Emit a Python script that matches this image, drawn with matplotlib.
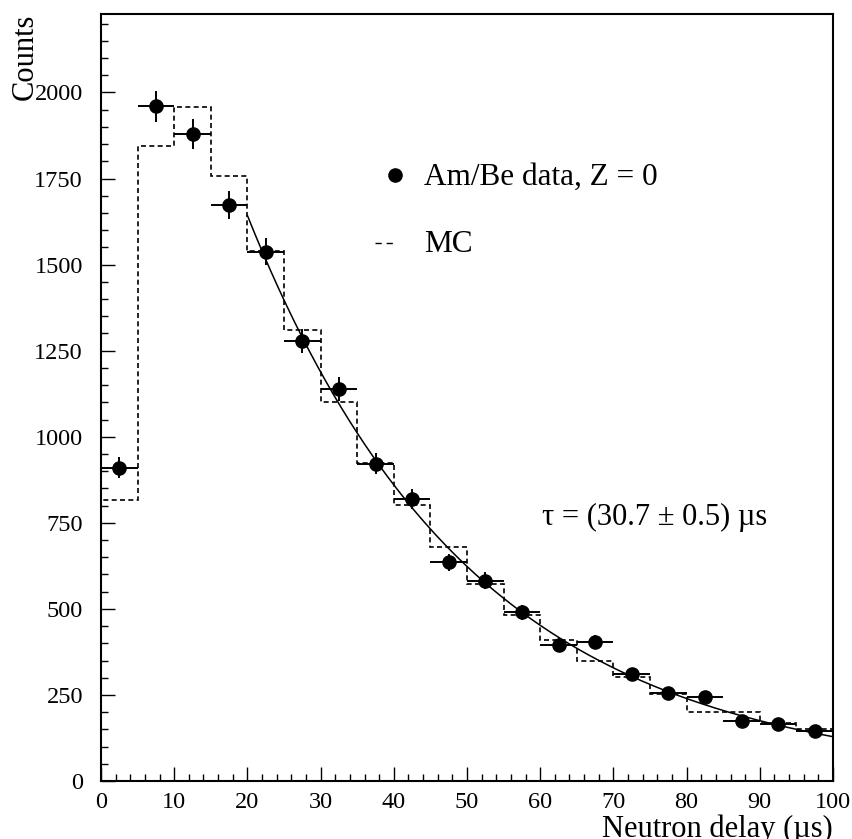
import numpy as np
import matplotlib
matplotlib.use("Agg")
import matplotlib.pyplot as plt

plt.rcParams['font.family'] = ['Liberation Serif', 'DejaVu Serif']

# data points (bin centres, counts)
delay = [2.5, 7.5, 12.5, 17.5, 22.5, 27.5, 32.5, 37.5, 42.5, 47.5,
         52.5, 57.5, 62.5, 67.5, 72.5, 77.5, 82.5, 87.5, 92.5, 97.5]
counts = [910, 1960, 1880, 1672, 1537, 1278, 1139, 922, 819, 635,
          582, 490, 395, 403, 311, 256, 243, 174, 166, 145]

# MC histogram, 5 us bins
mc_edges = [0, 5, 10, 15, 20, 25, 30, 35, 40, 45, 50,
            55, 60, 65, 70, 75, 80, 85, 90, 95, 100]
mc_counts = [816, 1845, 1957, 1756, 1540, 1311, 1101, 924, 801, 680,
             571, 482, 410, 349, 301, 252, 201, 201, 169, 150]

# exponential fit
fit_amp = 3136.0
fit_tau = 30.7
fit_const = 8.0
fit_start, fit_end = 20, 100

fig = plt.figure(figsize=(8.53, 8.39), dpi=100)
ax = fig.add_axes([101/853, 58/839, 732/853, 767/839])

ax.stairs(mc_counts, mc_edges, color='black', lw=1.2, linestyle=(0, (3, 2)))

t = np.linspace(fit_start, fit_end, 300)
ax.plot(t, fit_amp*np.exp(-t/fit_tau) + fit_const, color='black', lw=1.1)

ax.errorbar(delay, counts, xerr=2.5, yerr=np.sqrt(counts), fmt='o',
            color='black', ms=9.5, elinewidth=1.4, capsize=0)

ax.set_xlim(0, 100)
ax.set_ylim(0, 2228)
ax.set_xticks(np.arange(0, 101, 10))
ax.set_xticks(np.arange(0, 101, 2), minor=True)
ax.set_yticks(np.arange(0, 2001, 250))
ax.set_yticks(np.arange(0, 2228, 50), minor=True)
ax.tick_params(which='both', direction='in', top=False, right=False,
               width=1.0, labelsize=17.5)
ax.tick_params(which='major', length=10)
ax.tick_params(which='minor', length=5)
ax.tick_params(axis='x', pad=8)
ax.tick_params(axis='y', pad=13)
for s in ax.spines.values():
    s.set_linewidth(1.5)

ax.text(-0.104, 1.0, 'Counts', transform=ax.transAxes, rotation=90,
        ha='center', va='top', fontsize=22)
ax.text(1.0, -0.0726, 'Neutron delay (\u00b5s)', transform=ax.transAxes,
        ha='right', va='baseline', fontsize=22)

# legend drawn by hand
ax.plot([0.4016], [0.790], 'o', color='black', ms=9.5, transform=ax.transAxes)
ax.text(0.4413, 0.777, 'Am/Be data, Z = 0', transform=ax.transAxes,
        ha='left', va='baseline', fontsize=22.5)
ax.plot([0.374, 0.399], [0.7014, 0.7014], color='black', lw=1.0,
        linestyle=(0, (4.5, 3.5)), transform=ax.transAxes)
ax.text(0.4413, 0.690, 'MC', transform=ax.transAxes,
        ha='left', va='baseline', fontsize=22.5)

ax.text(0.6025, 0.3338, '\u03c4 = (30.7 \u00b1 0.5) \u00b5s', transform=ax.transAxes,
        ha='left', va='baseline', fontsize=22)

fig.savefig('out.png', dpi=100)
